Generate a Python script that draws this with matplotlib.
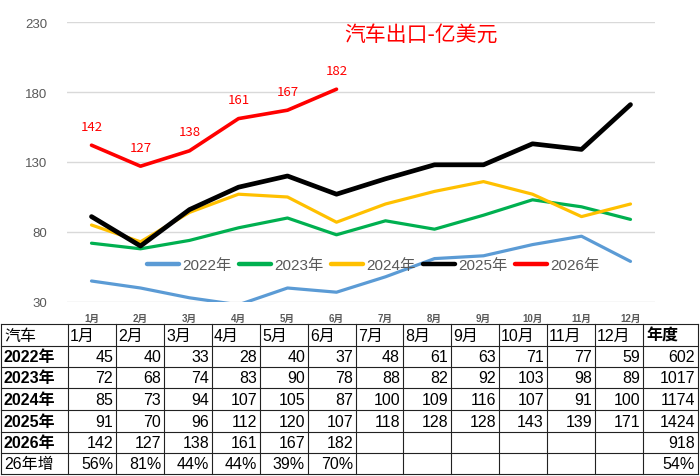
import numpy as np
import matplotlib
matplotlib.use('Agg')
import matplotlib.pyplot as plt

plt.rcParams['font.family'] = ['Liberation Sans', 'Noto Sans CJK SC', 'DejaVu Sans']

# Daten (Mrd. USD)
monate = ['1月', '2月', '3月', '4月', '5月', '6月', '7月', '8月', '9月', '10月', '11月', '12月']
jahre = ['2022年', '2023年', '2024年', '2025年', '2026年']
w2022 = [45, 40, 33, 28, 40, 37, 48, 61, 63, 71, 77, 59]
w2023 = [72, 68, 74, 83, 90, 78, 88, 82, 92, 103, 98, 89]
w2024 = [85, 73, 94, 107, 105, 87, 100, 109, 116, 107, 91, 100]
w2025 = [91, 70, 96, 112, 120, 107, 118, 128, 128, 143, 139, 171]
w2026 = [142, 127, 138, 161, 167, 182]
jahreswerte = [602, 1017, 1174, 1424, 918]
zuwachs = ['56%', '81%', '44%', '44%', '39%', '70%']
zuwachs_jahr = '54%'
y_ticks = [30, 80, 130, 180, 230]

farben = ['#5B9BD5', '#00B050', '#FFC000', '#000000', '#FF0000']
breiten = [2.3, 2.3, 2.3, 3.4, 2.6]
reihen = [w2022, w2023, w2024, w2025, w2026]

W, H = 700, 477
fig = plt.figure(figsize=(7, 4.77), dpi=100)

# Tabelle (Pixelkoordinaten)
tab = fig.add_axes([0, 0, 1, 1])
tab.set_xlim(0, W)
tab.set_ylim(H, 0)
tab.axis('off')
tab.patch.set_visible(False)

spalten = [1, 68, 116, 164, 212, 260, 308, 356, 403, 451, 499, 547, 595, 643, 698]
zeilen = [325, 347, 368, 389, 411, 433, 454, 475]
for xs in spalten:
    tab.plot([xs, xs], [zeilen[0], zeilen[-1]], color='#222222', lw=0.8)
for ys in zeilen:
    tab.plot([spalten[0], spalten[-1]], [ys, ys], color='#222222', lw=0.8)

fs = 11.5

def mitte(i):
    return (zeilen[i] + zeilen[i + 1]) / 2 + 0.5

# Kopfzeile
tab.text(spalten[0] + 3, mitte(0), '汽车', fontsize=fs, va='center', ha='left')
for j, m in enumerate(monate):
    tab.text(spalten[j + 1] + 2, mitte(0), m, fontsize=fs, va='center', ha='left')
tab.text(spalten[13] + 3, mitte(0), '年度', fontsize=fs, va='center', ha='left', weight='bold')

for i, (jahr, werte) in enumerate(zip(jahre, reihen)):
    tab.text(spalten[0] + 3, mitte(i + 1), jahr, fontsize=fs, va='center', ha='left', weight='bold')
    for j, v in enumerate(werte):
        tab.text(spalten[j + 2] - 3, mitte(i + 1), str(v), fontsize=fs, va='center', ha='right')
    tab.text(spalten[14] - 3, mitte(i + 1), str(jahreswerte[i]), fontsize=fs, va='center', ha='right')

tab.text(spalten[0] + 3, mitte(6), '26年增', fontsize=fs, va='center', ha='left')
for j, v in enumerate(zuwachs):
    tab.text(spalten[j + 2] - 3, mitte(6), v, fontsize=fs, va='center', ha='right')
tab.text(spalten[14] - 3, mitte(6), zuwachs_jahr, fontsize=fs, va='center', ha='right')

# Diagramm
ax = fig.add_axes([67 / W, 1 - 303 / H, 588 / W, 280 / H])
ax.patch.set_visible(False)
x = np.arange(1, 13)
for jahr, werte, c, lw in zip(jahre, reihen, farben, breiten):
    ax.plot(x[:len(werte)], werte, color=c, lw=lw, label=jahr,
            solid_joinstyle='round', solid_capstyle='round')

for xi, v in zip(x, w2026):
    ax.annotate(str(v), (xi, v), xytext=(0, 9), textcoords='offset points',
                ha='center', va='bottom', color='#FF0000', fontsize=9.5,
                family=['Noto Sans CJK SC'])

ax.set_xlim(0.5, 12.5)
ax.set_ylim(30, 230)
ax.set_yticks(y_ticks)
ax.set_xticks(x)
ax.set_xticklabels(monate)
ax.grid(axis='y', color='#D9D9D9', lw=1)
ax.set_axisbelow(True)
for s in ax.spines.values():
    s.set_visible(False)
ax.tick_params(length=0)
ax.tick_params(axis='y', labelsize=9.5, labelcolor='#595959', pad=14)
ax.tick_params(axis='x', labelsize=7, labelcolor='#595959', pad=8)
for t in ax.get_xticklabels():
    t.set_fontweight('bold')

fig.text(421 / W, 1 - 35 / H, '汽车出口-亿美元', color='#FF0000', fontsize=15,
         ha='center', va='center', family=['Noto Sans CJK SC'])

leg = ax.legend(loc='center', bbox_to_anchor=(0.521, 0.132), ncol=5, frameon=False,
                fontsize=11, handlelength=2.1, columnspacing=0.5, handletextpad=0.2,
                labelcolor='#595959')
for l in leg.get_lines():
    l.set_linewidth(3.2)

fig.savefig('out.png', dpi=100)
